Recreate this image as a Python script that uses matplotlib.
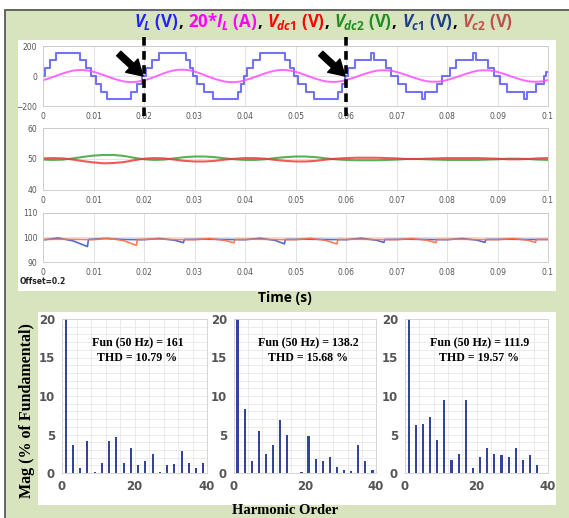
#============================================================
# 7-level inverter : load voltage / current, DC link and
# capacitor voltages, and harmonic spectra of V_L
#============================================================
import numpy as np
import matplotlib
matplotlib.use('Agg')
import matplotlib.pyplot as plt
from matplotlib.patches import Rectangle
from matplotlib.offsetbox import TextArea, HPacker, AnchoredOffsetbox
from matplotlib.ticker import MultipleLocator

#============================================================
# Data
#============================================================
# V_L staircase : switching instants (s) and level reached after each one (V)
vl_t = [0.0000, 0.0003, 0.0013, 0.0026, 0.0073, 0.0086, 0.0096, 0.0104, 0.0114, 0.0127, 0.0175, 0.0187, 0.0197,
        0.0200, 0.0204, 0.0215, 0.0230, 0.0283, 0.0291, 0.0298, 0.0305, 0.0318, 0.0336, 0.0387, 0.0393, 0.0399,
        0.0403, 0.0415, 0.0430, 0.0480, 0.0490, 0.0497, 0.0505, 0.0520, 0.0537, 0.0584, 0.0592, 0.0599,
        0.0603, 0.0617, 0.0650, 0.0656, 0.0680, 0.0690, 0.0703, 0.0718, 0.0750, 0.0756, 0.0780, 0.0790,
        0.0805, 0.0818, 0.0852, 0.0858, 0.0882, 0.0893, 0.0905, 0.0918, 0.0952, 0.0958, 0.0977, 0.0993,
        0.0997, 0.1000]
vl_v = [0, 55, 105, 155, 105, 55, 0, -55, -105, -155, -105, -55, 0,
        0, 55, 105, 155, 105, 55, 0, -55, -105, -155, -105, -55, 0,
        55, 105, 155, 105, 55, 0, -55, -105, -155, -105, -55, 0,
        55, 105, 155, 105, 55, 0, -50, -105, -155, -105, -55, 0,
        55, 105, 155, 105, 55, 0, -55, -105, -155, -105, -55, 0,
        30, 30]

# 20*I_L sampled every 1 ms (A)
il_t = np.linspace(0, 0.1, 101)
il_v = [-28, -18, -6, 6, 18, 28, 36, 40, 40, 36, 28, 18, 6, -6, -18, -28, -36, -40, -40, -36,
        -29, -19, -7, 6, 19, 30, 38, 42, 42, 38, 30, 19, 6, -7, -19, -29, -37, -41, -41, -37,
        -28, -18, -6, 6, 18, 28, 36, 40, 40, 36, 28, 18, 6, -6, -18, -28, -36, -39, -39, -35,
        -27, -17, -6, 6, 17, 27, 35, 38, 38, 35, 27, 17, 6, -6, -17, -27, -35, -38, -38, -35,
        -27, -17, -6, 6, 17, 27, 35, 38, 38, 35, 27, 17, 6, -6, -17, -27, -35, -38, -38, -35,
        -27]

# DC link voltages sampled every 2 ms (V)
vdc_t = np.linspace(0, 0.1, 51)
vdc1 = [50.2, 50.3, 50.2, 49.8, 49.3, 48.9, 48.6, 48.7, 49.0, 49.6,
        50.1, 50.3, 50.2, 49.8, 49.4, 49.2, 49.2, 49.4, 49.8, 50.1,
        50.3, 50.3, 50.1, 49.7, 49.4, 49.2, 49.2, 49.4, 49.8, 50.1,
        50.3, 50.4, 50.4, 50.4, 50.3, 50.2, 50.0, 50.0, 50.1, 50.2,
        50.3, 50.3, 50.3, 50.3, 50.2, 50.1, 49.9, 49.9, 50.0, 50.2,
        50.3]
vdc2 = [49.8, 49.7, 49.8, 50.2, 50.7, 51.1, 51.3, 51.3, 51.0, 50.4,
        49.9, 49.7, 49.8, 50.2, 50.6, 50.8, 50.8, 50.6, 50.2, 49.9,
        49.7, 49.7, 49.9, 50.3, 50.6, 50.8, 50.8, 50.6, 50.2, 49.9,
        49.7, 49.6, 49.6, 49.6, 49.7, 49.8, 50.0, 50.0, 49.9, 49.8,
        49.7, 49.7, 49.7, 49.7, 49.8, 49.9, 50.1, 50.1, 50.0, 49.8,
        49.7]

# capacitor voltages (breakpoints, V)
vc1_t = [0.000, 0.003, 0.006, 0.0088, 0.0090, 0.012, 0.016, 0.020, 0.023, 0.026, 0.0278, 0.0280,
         0.032, 0.036, 0.040, 0.043, 0.046, 0.0478, 0.0480, 0.052, 0.056, 0.060, 0.063, 0.066,
         0.0675, 0.0677, 0.072, 0.076, 0.080, 0.083, 0.086, 0.0875, 0.0877, 0.092, 0.096, 0.100]
vc1_v = [99.0, 99.8, 98.6, 96.3, 99.2, 99.6, 99.2, 99.1, 99.6, 98.9, 97.9, 99.2,
         99.3, 99.2, 99.1, 99.7, 98.8, 97.4, 99.2, 99.3, 99.2, 99.1, 99.7, 98.9,
         98.0, 99.2, 99.3, 99.2, 99.1, 99.6, 98.9, 98.0, 99.2, 99.3, 99.2, 99.2]
vc2_t = [0.000, 0.004, 0.008, 0.010, 0.013, 0.016, 0.0185, 0.0187, 0.022, 0.026, 0.030, 0.033,
         0.036, 0.0378, 0.0380, 0.042, 0.046, 0.050, 0.053, 0.056, 0.0582, 0.0584, 0.062, 0.066,
         0.070, 0.073, 0.076, 0.0778, 0.0780, 0.082, 0.086, 0.090, 0.093, 0.096, 0.0975, 0.0977, 0.100]
vc2_v = [99.2, 99.3, 99.2, 99.1, 99.7, 98.7, 96.8, 99.2, 99.4, 99.2, 99.1, 99.6,
         98.8, 97.8, 99.2, 99.3, 99.2, 99.1, 99.7, 98.8, 97.4, 99.2, 99.3, 99.2,
         99.1, 99.6, 98.9, 97.9, 99.2, 99.3, 99.2, 99.1, 99.6, 98.9, 98.0, 99.2, 99.2]

marker_times = [0.02, 0.06]

# harmonic spectra (% of fundamental)
orders = [1, 3, 5, 7, 9, 11, 13, 15, 17, 19, 21, 23, 25, 27, 29, 31, 33, 35, 37, 39]
mag_a = [100, 3.6, 0.6, 4.2, 0.1, 1.3, 4.2, 4.7, 1.3, 3.3, 1.0, 1.6, 2.5, 0.1, 1.1, 1.2, 2.9, 1.3, 0.7, 1.3]
mag_b = [100, 8.3, 1.5, 5.4, 2.5, 3.7, 6.9, 5.0, 0.0, 0.1, 4.8, 1.8, 1.5, 2.1, 0.8, 0.4, 0.3, 3.7, 1.5, 0.4]
mag_c = [100, 6.2, 6.4, 7.3, 4.3, 9.5, 1.7, 2.5, 9.5, 0.7, 2.1, 3.2, 2.5, 2.4, 2.1, 3.2, 1.7, 2.4, 1.0, 0.0]
fun_values = ['161', '138.2', '111.9']
thd_values = ['10.79', '15.68', '19.57']

#============================================================
# Figure layout (pixel helpers)
#============================================================
W, H = 569, 518
plt.rcParams['mathtext.fontset'] = 'custom'
plt.rcParams['mathtext.it'] = 'Open Sans:italic:bold'
plt.rcParams['mathtext.rm'] = 'Open Sans:bold'
plt.rcParams['mathtext.bf'] = 'Open Sans:bold'

fig = plt.figure(figsize=(W / 100, H / 100), dpi=100)
fig.patch.set_facecolor('white')

def rect(x0, y0, x1, y1):
    return [x0 / W, 1 - y1 / H, (x1 - x0) / W, (y1 - y0) / H]

def fx(x):
    return x / W

def fy(y):
    return 1 - y / H

# green frame and white panels (behind the axes)
fig.add_artist(Rectangle((fx(5), fy(530)), 1.0, fy(10) - fy(530), transform=fig.transFigure,
                         facecolor='#d7e4bd', edgecolor='#5a5a5a', lw=1.3, zorder=-3))
fig.add_artist(Rectangle((fx(18), fy(291)), fx(538), fy(40) - fy(291), transform=fig.transFigure,
                         facecolor='white', edgecolor='none', zorder=-2))
fig.add_artist(Rectangle((fx(38), fy(505)), fx(518), fy(312) - fy(505), transform=fig.transFigure,
                         facecolor='white', edgecolor='none', zorder=-2))

# coloured title
pieces = [('$V_L$ (V)', '#2222ff'), (', ', 'black'), ('20*$I_L$ (A)', '#ff00ff'), (', ', 'black'),
          ('$V_{dc1}$ (V)', '#ff0000'), (', ', 'black'), ('$V_{dc2}$ (V)', '#1e8c1e'), (', ', 'black'),
          ('$V_{c1}$ (V)', '#1f3c88'), (', ', 'black'), ('$V_{c2}$ (V)', '#c0504d')]
boxes = [TextArea(s, textprops=dict(color=c, fontsize=12.2, fontweight='bold', family='Open Sans'))
         for s, c in pieces]
packer = HPacker(children=boxes, align='baseline', pad=0, sep=0)
title = AnchoredOffsetbox(loc='upper right', child=packer, pad=0, borderpad=0, frameon=False,
                          bbox_to_anchor=(fx(513), fy(11)), bbox_transform=fig.transFigure)
fig.add_artist(title)

#============================================================
# Time domain plots
#============================================================
def styleTime(ax, ylim, yticks):
    ax.set_xlim(0, 0.1)
    ax.set_ylim(ylim)
    ax.set_yticks(yticks)
    ax.set_xticks(np.linspace(0, 0.1, 11))
    ax.set_xticklabels(['0', '0.01', '0.02', '0.03', '0.04', '0.05', '0.06', '0.07', '0.08', '0.09', '0.1'])
    ax.tick_params(labelsize=5.5, labelcolor='#555555', length=0, pad=4)
    ax.grid(True, color='#dddddd', lw=0.6)
    ax.set_axisbelow(True)
    for s in ax.spines.values():
        s.set_color('#c8c8c8')
        s.set_linewidth(0.6)

ax1 = fig.add_axes(rect(43, 46, 548, 106))
ax1.step(vl_t, vl_v, where='post', color='#5a5af5', lw=1.5, alpha=0.85)
ax1.plot(il_t, il_v, color='#ff4cff', lw=1.4, alpha=0.85)
styleTime(ax1, (-200, 200), [-200, 0, 200])
for t in marker_times:
    ax1.plot([t, t], [258, -300], color='black', lw=2.6, ls=(0, (2.4, 1.5)), clip_on=False, zorder=5)
    ax1.annotate('', xy=(t - 0.0002, 0), xytext=(t - 0.0050, 150),
                 arrowprops=dict(arrowstyle='simple,head_length=0.55,head_width=0.65,tail_width=0.22',
                                 color='black', mutation_scale=20, shrinkA=0, shrinkB=0),
                 annotation_clip=False, zorder=6)

ax2 = fig.add_axes(rect(43, 128, 548, 190))
ax2.plot(vdc_t, vdc2, color='#2ca02c', lw=1.5, alpha=0.8)
ax2.plot(vdc_t, vdc1, color='#f03030', lw=1.5, alpha=0.8)
styleTime(ax2, (40, 60), [40, 50, 60])

ax3 = fig.add_axes(rect(43, 213, 548, 262))
ax3.plot(vc1_t, vc1_v, color='#3a5bd0', lw=1.2, alpha=0.9)
ax3.plot(vc2_t, vc2_v, color='#ff7043', lw=1.2, alpha=0.9)
styleTime(ax3, (90, 110), [90, 100, 110])

fig.text(fx(20), fy(281), 'Offset=0.2', fontsize=5.5, fontweight='bold', color='#222222', va='center')
fig.text(fx(285), fy(298), 'Time (s)', fontsize=10, fontweight='bold', family='Open Sans',
         ha='center', va='center')

#============================================================
# Harmonic spectra
#============================================================
spectra = [mag_a, mag_b, mag_c]
panel_x = [(62, 207), (234, 376), (405, 548)]
for i in range(3):
    x0, x1 = panel_x[i]
    ax = fig.add_axes(rect(x0, 319, x1, 473))
    ax.bar(orders, spectra[i], width=0.6, color='#34449a')
    ax.set_xlim(0, 40)
    ax.set_ylim(0, 20)
    ax.set_xticks([0, 20, 40])
    ax.set_yticks([0, 5, 10, 15, 20])
    ax.xaxis.set_minor_locator(MultipleLocator(4))
    ax.yaxis.set_minor_locator(MultipleLocator(1))
    ax.grid(True, which='both', color='#e8e8e8', lw=0.6)
    ax.set_axisbelow(True)
    ax.tick_params(which='both', length=0)
    ax.tick_params(labelsize=8.5, labelcolor='#555555', pad=5)
    for lab in ax.get_xticklabels() + ax.get_yticklabels():
        lab.set_fontweight('bold')
    for s in ax.spines.values():
        s.set_color('#d0d0d0')
        s.set_linewidth(0.6)
    ax.text(0.52, 0.795, 'Fun (50 Hz) = ' + fun_values[i] + '\nTHD = ' + thd_values[i] + ' %',
            transform=ax.transAxes, ha='center', va='center', fontsize=8.6, fontweight='bold',
            family='Liberation Serif', linespacing=1.35)

fig.text(fx(27), fy(411), 'Mag (% of Fundamental)', rotation=90, fontsize=11.5, fontweight='bold',
         family='Liberation Serif', ha='center', va='center')
fig.text(fx(285), fy(511), 'Harmonic Order', fontsize=10.5, fontweight='bold',
         family='Liberation Serif', ha='center', va='center')

fig.savefig('out.png', dpi=100, facecolor=fig.get_facecolor())
